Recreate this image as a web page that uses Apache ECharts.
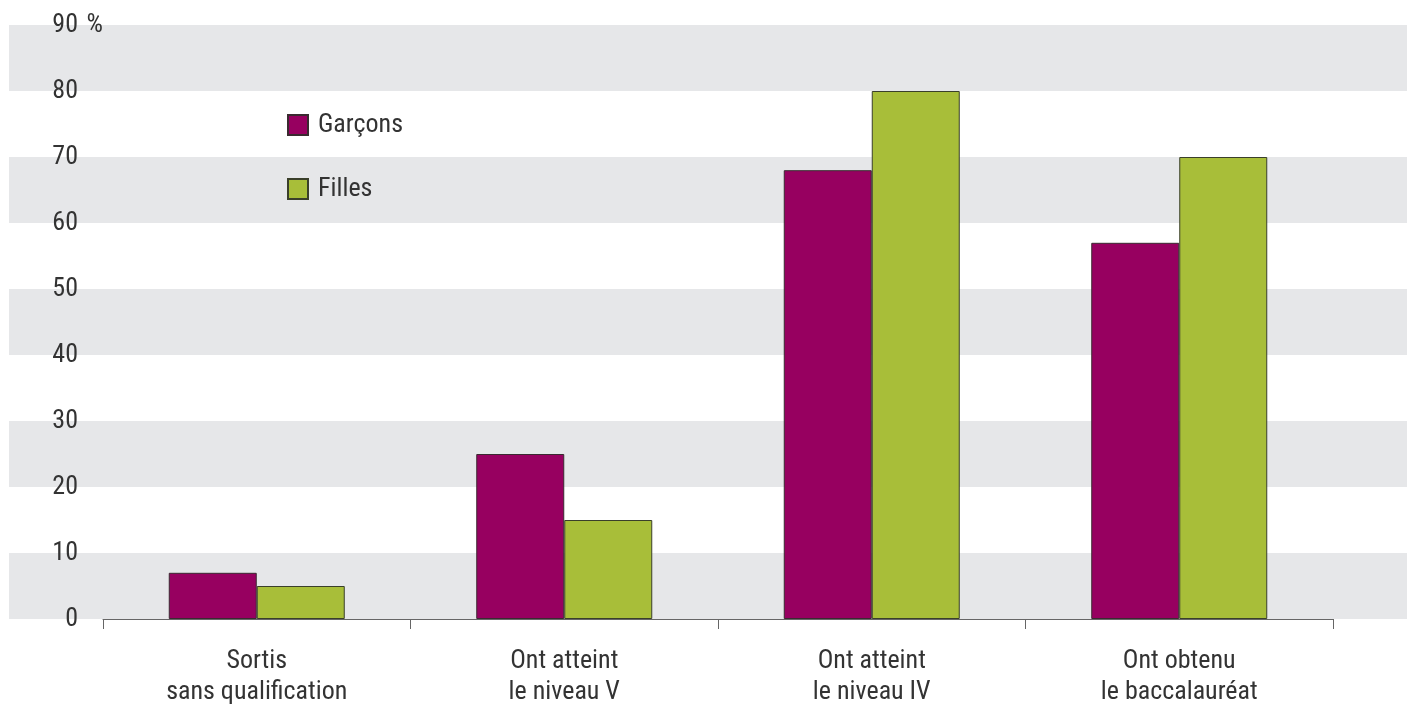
<!DOCTYPE html>
<html><head><meta charset="utf-8">
<script src="https://cdn.jsdelivr.net/npm/echarts@6/dist/echarts.min.js"></script>
<style>html,body{margin:0;padding:0;background:#fff}#c{width:1407px;height:704px}</style>
</head><body><div id="c"></div>
<script>
const categories = ['Sortis\nsans qualification', 'Ont atteint\nle niveau V', 'Ont atteint\nle niveau IV', 'Ont obtenu\nle baccalauréat'];
const garcons = [7, 25, 68, 57];
const filles = [5, 15, 80, 70];
const seriesNames = ['Garçons', 'Filles'];
const yMin = 0, yMax = 90, yStep = 10;

const FONT = "'Liberation Sans Narrow', 'Roboto Condensed', 'DejaVu Sans Condensed', 'Liberation Sans', sans-serif";
const chart = echarts.init(document.getElementById('c'));
chart.setOption({
  animation: false,
  textStyle: { fontFamily: FONT },
  grid: [
    { left: 9, right: 0, top: 25, bottom: 85, outerBoundsMode: 'none', containLabel: false },
    { left: 103, right: 74, top: 25, bottom: 85, outerBoundsMode: 'none', containLabel: false }
  ],
  legend: {
    orient: 'vertical', left: 282, top: 107, itemWidth: 20, itemHeight: 20, itemGap: 38,
    icon: 'rect',
    textStyle: { fontFamily: FONT, fontSize: 26, color: '#333', padding: [0, 0, 0, 5] },
    data: seriesNames
  },
  xAxis: [
    { gridIndex: 0, type: 'value', show: false },
    { gridIndex: 1, type: 'category', data: categories,
      axisLine: { lineStyle: { color: '#666', width: 1 } },
      axisTick: { show: true, length: 10, lineStyle: { color: '#666', width: 1 } },
      axisLabel: { fontFamily: FONT, fontSize: 26, lineHeight: 31, color: '#333', margin: 27 } }
  ],
  yAxis: [
    { gridIndex: 0, type: 'value', min: yMin, max: yMax, interval: yStep,
      axisLine: { show: false }, axisTick: { show: false }, axisLabel: { show: false },
      splitLine: { show: false },
      splitArea: { show: true, areaStyle: { color: ['#e6e7e9', '#ffffff'] } } },
    { gridIndex: 1, type: 'value', min: yMin, max: yMax, interval: yStep,
      axisLine: { show: false }, axisTick: { show: false }, splitLine: { show: false },
      axisLabel: { fontFamily: FONT, fontSize: 26, color: '#333', margin: 25 },
      name: '%', nameLocation: 'end', nameGap: 0,
      nameTextStyle: { fontFamily: FONT, fontSize: 26, color: '#333', align: 'right', verticalAlign: 'middle', padding: [0, 0, 0, 0] } }
  ],
  series: [
    { name: seriesNames[0], type: 'bar', xAxisIndex: 1, yAxisIndex: 1, data: garcons, barWidth: 88, barGap: '0%',
      itemStyle: { color: '#970060', borderColor: '#3a2a30', borderWidth: 1 } },
    { name: seriesNames[1], type: 'bar', xAxisIndex: 1, yAxisIndex: 1, data: filles, barWidth: 88, barGap: '0%',
      itemStyle: { color: '#a8be39', borderColor: '#3a3f2a', borderWidth: 1 } }
  ]
});
</script></body></html>
